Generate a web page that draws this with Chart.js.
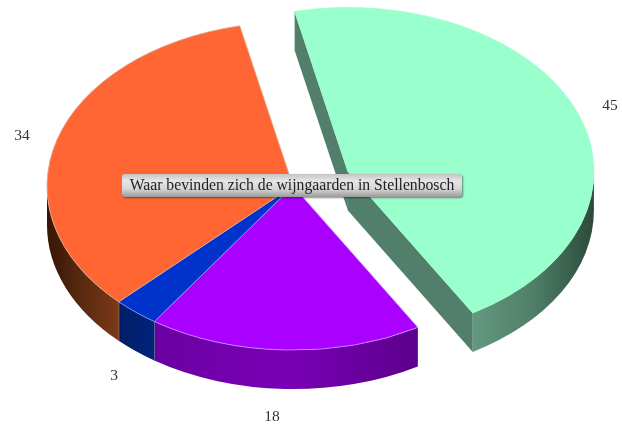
<!DOCTYPE html>
<html>
<head>
<meta charset="utf-8">
<style>html,body{margin:0;padding:0;background:#fff}canvas{display:block}</style>
<script src="https://cdn.jsdelivr.net/npm/chart.js@4"></script>
</head>
<body>
<canvas id="c" width="622" height="428"></canvas>
<script>
const title = 'Waar bevinden zich de wijngaarden in Stellenbosch';
const categories = ['45', '18', '3', '34'];
const values = [45, 18, 3, 34];
const colors = ['#99FFCC', '#AA00FF', '#0033CC', '#FF6633'];
const edgeColors = ['#99FFCC', '#D08CFF', '#8C9CE6', '#DDA98F'];
const explode = [59, 0, 0, 0];
const wallShades = [
  ['#64987F', '#4F7F69', '#2C4A3B'],
  ['#6A00A2', '#7A00B6', '#5C008C'],
  ['#001C66', '#00257D'],
  ['#371505', '#5A2A10', '#7C3A18']
];
const cutWallColor = '#527F6B';
const labelAnchors = [[610, 106], [272, 417], [114, 376], [22, 136]];

const SQUASH = 0.667, DEPTH = 39, ROTATION = -12.5, RADIUS = 246;
const FONT = '"Liberation Serif", "Times New Roman", serif';

function normalised(a) {
  const t = Math.PI * 2;
  return ((a % t) + t) % t;
}

const pie3d = {
  id: 'pie3d',
  afterDatasetsUpdate(chart) {
    chart.getDatasetMeta(0).data.forEach((arc, i) => {
      const mid = (arc.startAngle + arc.endAngle) / 2;
      arc.x += Math.cos(mid) * explode[i];
      arc.y += Math.sin(mid) * explode[i];
    });
  },
  beforeDatasetsDraw(chart) {
    const ctx = chart.ctx;
    const area = chart.chartArea;
    const cy0 = (area.top + area.bottom) / 2;
    const arcs = chart.getDatasetMeta(0).data;
    const sy = y => cy0 + (y - cy0) * SQUASH;

    // straight cut faces of the exploded slice
    arcs.forEach((arc, i) => {
      if (!explode[i]) return;
      const r = arc.outerRadius, x = arc.x, y = sy(arc.y);
      [[arc.startAngle, Math.cos(arc.startAngle) < 0], [arc.endAngle, Math.cos(arc.endAngle) > 0]]
        .forEach(([a, visible]) => {
          if (!visible) return;
          const ex = x + r * Math.cos(a), ey = y + r * SQUASH * Math.sin(a);
          ctx.beginPath();
          ctx.moveTo(x, y);
          ctx.lineTo(ex, ey);
          ctx.lineTo(ex, ey + DEPTH);
          ctx.lineTo(x, y + DEPTH);
          ctx.closePath();
          ctx.fillStyle = cutWallColor;
          ctx.fill();
        });
    });

    // curved outer walls, front half only
    arcs.forEach((arc, i) => {
      const r = arc.outerRadius, x = arc.x, y = sy(arc.y), ry = r * SQUASH;
      const s = normalised(arc.startAngle);
      const e = s + (arc.endAngle - arc.startAngle);
      for (let k = 0; k < 2; k++) {
        const lo = Math.max(s, k * Math.PI * 2);
        const hi = Math.min(e, k * Math.PI * 2 + Math.PI);
        if (hi <= lo) continue;
        const xa = x + r * Math.cos(hi), xb = x + r * Math.cos(lo);
        const g = ctx.createLinearGradient(Math.min(xa, xb), 0, Math.max(xa, xb), 0);
        wallShades[i].forEach((c, n, all) => g.addColorStop(n / (all.length - 1), c));
        ctx.beginPath();
        ctx.ellipse(x, y, r, ry, 0, lo, hi);
        ctx.ellipse(x, y + DEPTH, r, ry, 0, hi, lo, true);
        ctx.closePath();
        ctx.fillStyle = g;
        ctx.fill();
        // seam between neighbouring slices
        if (!explode[i] && hi < k * Math.PI * 2 + Math.PI - 1e-6) {
          const sx = x + r * Math.cos(hi), syy = y + ry * Math.sin(hi);
          ctx.beginPath();
          ctx.moveTo(sx, syy);
          ctx.lineTo(sx, syy + DEPTH);
          ctx.strokeStyle = '#8E8E9E';
          ctx.lineWidth = 1;
          ctx.stroke();
        }
      }
    });

    // squash the tops the library draws next
    ctx.save();
    ctx.translate(0, cy0);
    ctx.scale(1, SQUASH);
    ctx.translate(0, -cy0);
  },
  afterDatasetsDraw(chart) {
    const ctx = chart.ctx;
    ctx.restore();

    // value labels
    ctx.font = '15.5px ' + FONT;
    ctx.fillStyle = '#333';
    ctx.textAlign = 'center';
    ctx.textBaseline = 'middle';
    categories.forEach((t, i) => ctx.fillText(t, labelAnchors[i][0], labelAnchors[i][1]));

    // title plate
    const bx = 122, by = 174, bw = 340, bh = 23;
    ctx.save();
    ctx.shadowColor = 'rgba(0,0,0,.45)';
    ctx.shadowBlur = 2;
    ctx.shadowOffsetX = 1;
    ctx.shadowOffsetY = 1;
    const g = ctx.createLinearGradient(0, by, 0, by + bh);
    g.addColorStop(0, '#C4C4C4');
    g.addColorStop(0.3, '#E6E6E6');
    g.addColorStop(0.65, '#D6D6D6');
    g.addColorStop(1, '#9A9A9A');
    ctx.fillStyle = g;
    ctx.beginPath();
    ctx.roundRect(bx, by, bw, bh, 3);
    ctx.fill();
    ctx.restore();
    ctx.font = '15.7px ' + FONT;
    ctx.fillStyle = '#222';
    ctx.textAlign = 'center';
    ctx.textBaseline = 'middle';
    ctx.fillText(title, bx + bw / 2, by + bh / 2);
  }
};

new Chart(document.getElementById('c'), {
  type: 'pie',
  data: {
    labels: categories,
    datasets: [{
      data: values,
      backgroundColor: colors,
      borderColor: edgeColors,
      borderWidth: 1,
      clip: false
    }]
  },
  options: {
    responsive: false,
    animation: false,
    events: [],
    rotation: ROTATION,
    radius: RADIUS,
    layout: { padding: { left: 0, top: 0, right: 36, bottom: 56 } },
    plugins: { legend: { display: false }, tooltip: { enabled: false }, title: { display: false } }
  },
  plugins: [pie3d, { id: 'bg', beforeDraw(c) { c.ctx.save(); c.ctx.fillStyle = '#fff'; c.ctx.fillRect(0, 0, c.width, c.height); c.ctx.restore(); } }]
});
</script>
</body>
</html>
